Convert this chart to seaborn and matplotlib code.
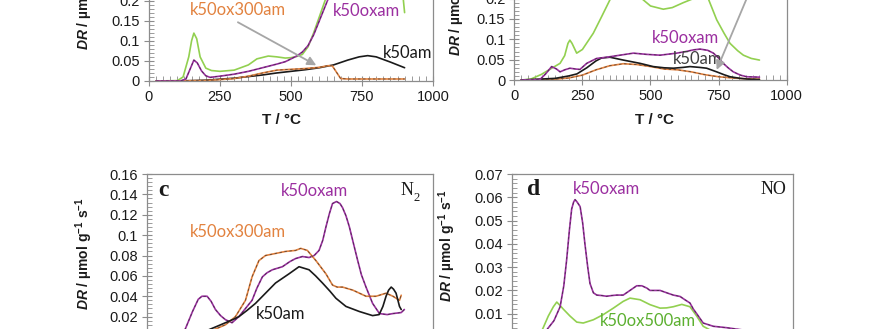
import matplotlib
matplotlib.use("Agg")
import matplotlib.pyplot as plt
from matplotlib.ticker import MultipleLocator, FuncFormatter
import pandas as pd
import seaborn as sns

# ---------------- data: desorption rate (µmol g-1 s-1) vs temperature (°C) ----------------
# panel a
a_ox500_T = [25, 100, 120, 140, 150, 158, 168, 180, 200, 220, 250, 300, 350, 380, 420, 450,
             480, 500, 520, 540, 560, 580, 600, 620, 640, 700, 800, 880, 893, 900]
a_ox500_v = [0, 0.001, 0.01, 0.06, 0.10, 0.119, 0.105, 0.06, 0.032, 0.026, 0.024, 0.027, 0.04,
             0.055, 0.062, 0.060, 0.057, 0.058, 0.061, 0.066, 0.085, 0.12, 0.16, 0.2, 0.24, 0.32,
             0.36, 0.33, 0.22, 0.17]
a_oxam_T = [25, 110, 130, 145, 158, 170, 185, 200, 215, 250, 300, 350, 400, 450, 480, 500, 520,
            540, 560, 580, 600, 620, 640, 660, 700, 800, 900]
a_oxam_v = [0, 0, 0.005, 0.03, 0.052, 0.045, 0.025, 0.013, 0.009, 0.012, 0.017, 0.024, 0.033,
            0.042, 0.048, 0.055, 0.062, 0.072, 0.088, 0.115, 0.15, 0.185, 0.22, 0.26, 0.33, 0.4, 0.42]
a_am_T = [25, 100, 200, 300, 400, 450, 500, 550, 600, 650, 700, 740, 770, 800, 850, 900]
a_am_v = [0, 0, 0.002, 0.007, 0.015, 0.02, 0.024, 0.028, 0.033, 0.04, 0.052, 0.06, 0.063, 0.06,
          0.047, 0.033]
a_ox300_T = [25, 200, 300, 350, 400, 450, 500, 550, 600, 630, 645, 660, 675, 700, 800, 900]
a_ox300_v = [0, 0.001, 0.006, 0.012, 0.02, 0.027, 0.029, 0.031, 0.034, 0.038, 0.038, 0.022,
             0.006, 0.005, 0.005, 0.005]

# panel b
b_ox500_T = [25, 60, 100, 130, 168, 185, 197, 204, 212, 229, 250, 270, 290, 320, 351, 380, 410,
             440, 468, 500, 547, 580, 620, 657, 680, 700, 712, 743, 770, 792, 820, 841, 870, 900]
b_ox500_v = [0, 0.002, 0.014, 0.026, 0.041, 0.06, 0.09, 0.098, 0.09, 0.066, 0.075, 0.095, 0.115,
             0.155, 0.197, 0.23, 0.25, 0.235, 0.2, 0.182, 0.174, 0.178, 0.19, 0.2, 0.215, 0.212,
             0.2, 0.148, 0.115, 0.09, 0.072, 0.061, 0.053, 0.049]
b_oxam_T = [25, 94, 115, 137, 155, 168, 185, 204, 225, 241, 266, 302, 339, 388, 437, 486, 535,
            596, 630, 657, 682, 710, 731, 750, 767, 785, 804, 830, 853, 900]
b_oxam_v = [0, 0.001, 0.015, 0.033, 0.027, 0.02, 0.025, 0.029, 0.027, 0.026, 0.041, 0.053, 0.056,
            0.061, 0.066, 0.063, 0.061, 0.066, 0.07, 0.074, 0.076, 0.073, 0.066, 0.054, 0.041,
            0.03, 0.02, 0.012, 0.008, 0.007]
b_am_T = [25, 150, 200, 230, 266, 300, 320, 351, 400, 461, 510, 550, 584, 620, 645, 680, 706,
          743, 770, 792, 830, 860, 900]
b_am_v = [0, 0.004, 0.01, 0.015, 0.03, 0.047, 0.054, 0.056, 0.049, 0.041, 0.033, 0.03, 0.029,
          0.031, 0.033, 0.031, 0.029, 0.02, 0.013, 0.008, 0.004, 0.002, 0.001]
b_ox300_T = [25, 150, 200, 250, 300, 350, 400, 450, 500, 550, 600, 650, 700, 750, 800, 850, 900]
b_ox300_v = [0, 0.002, 0.005, 0.012, 0.025, 0.035, 0.04, 0.038, 0.033, 0.027, 0.025, 0.02,
             0.013, 0.008, 0.005, 0.003, 0.002]

# panel c (N2)
c_oxam_T = [25, 100, 120, 135, 160, 180, 193, 211, 225, 240, 258, 275, 298, 322, 345, 368, 385,
            404, 420, 439, 474, 500, 520, 544, 567, 585, 602, 615, 626, 638, 649, 663, 675, 684,
            696, 708, 722, 737, 750, 766, 789, 813, 840, 860, 889, 900]
c_oxam_v = [0, 0, 0.003, 0.008, 0.025, 0.037, 0.040, 0.040, 0.035, 0.027, 0.021, 0.017, 0.014,
            0.020, 0.028, 0.036, 0.048, 0.059, 0.063, 0.066, 0.069, 0.074, 0.077, 0.079, 0.078,
            0.080, 0.085, 0.095, 0.108, 0.121, 0.131, 0.133, 0.131, 0.127, 0.119, 0.108, 0.092,
            0.075, 0.061, 0.049, 0.033, 0.023, 0.022, 0.023, 0.024, 0.027]
c_am_T = [25, 150, 216, 250, 275, 300, 322, 350, 380, 415, 450, 497, 532, 567, 590, 614, 640,
          661, 696, 743, 789, 812, 825, 836, 845, 854, 862, 871, 883, 889]
c_am_v = [0, 0.002, 0.007, 0.011, 0.014, 0.017, 0.020, 0.026, 0.033, 0.043, 0.053, 0.062, 0.069,
          0.066, 0.060, 0.053, 0.045, 0.038, 0.030, 0.025, 0.021, 0.022, 0.03, 0.040, 0.046,
          0.049, 0.047, 0.043, 0.030, 0.027]
c_ox300_T = [25, 200, 250, 275, 310, 345, 368, 392, 415, 450, 485, 520, 538, 561, 591, 626, 649,
             665, 684, 720, 766, 801, 836, 860, 883, 889]
c_ox300_v = [0, 0.003, 0.009, 0.012, 0.020, 0.036, 0.059, 0.075, 0.080, 0.082, 0.084, 0.085,
             0.087, 0.085, 0.075, 0.062, 0.051, 0.049, 0.049, 0.046, 0.040, 0.040, 0.043, 0.040,
             0.036, 0.041]

# panel d (NO)
d_oxam_T = [25, 100, 124, 150, 172, 185, 195, 205, 213, 220, 225, 232, 243, 252, 260, 270, 278,
            290, 302, 320, 337, 355, 373, 396, 420, 444, 462, 480, 491, 527, 550, 574, 598, 615,
            633, 645, 657, 680, 716, 763, 822, 882, 900]
d_oxam_v = [0, 0.001, 0.003, 0.007, 0.013, 0.022, 0.033, 0.046, 0.055, 0.058, 0.059, 0.058,
            0.056, 0.049, 0.040, 0.030, 0.023, 0.019, 0.018, 0.0178, 0.0175, 0.0178, 0.018,
            0.018, 0.020, 0.022, 0.022, 0.021, 0.020, 0.020, 0.019, 0.018, 0.0174, 0.016,
            0.0146, 0.012, 0.010, 0.006, 0.0046, 0.004, 0.003, 0.0024, 0.002]
d_ox500_T = [25, 100, 112, 130, 148, 160, 172, 183, 207, 231, 254, 290, 325, 361, 396, 420, 456,
             491, 527, 550, 574, 604, 633, 657, 680, 720, 800, 900]
d_ox500_v = [0, 0.001, 0.004, 0.009, 0.013, 0.015, 0.0135, 0.012, 0.009, 0.0064, 0.006, 0.0074,
             0.0096, 0.0124, 0.0153, 0.0167, 0.016, 0.0139, 0.0124, 0.0125, 0.013, 0.014, 0.013,
             0.009, 0.0046, 0.002, 0.001, 0.0005]

x_ticks = [0, 250, 500, 750, 1000]

# ---------------- style ----------------
PURPLE = "#9b2fa0"
ORANGE = "#e2823f"
GREEN = "#92d050"
BLACK = "#1a1a1a"
AXIS = "#8c8c8c"

sns.set_theme(style="ticks")
plt.rcParams.update({
    "font.family": ["Liberation Sans", "DejaVu Sans"],
    "mathtext.fontset": "custom",
    "mathtext.rm": "Liberation Sans:bold",
    "mathtext.bf": "Liberation Sans:bold",
    "mathtext.it": "Liberation Sans:italic:bold",
    "axes.edgecolor": AXIS,
    "axes.linewidth": 0.9,
    "figure.facecolor": "white",
    "axes.facecolor": "white",
})

W, H = 870, 329
fig = plt.figure(figsize=(W / 100, H / 100), dpi=100)


def make_axes(left, right, y_zero, y_top):
    """Axes from pixel edges measured from the top-left corner of the canvas."""
    return fig.add_axes([left / W, 1 - y_zero / H, (right - left) / W, (y_zero - y_top) / H])


def curve(ax, T, v, color, overlay=False):
    df = pd.DataFrame({"T": T, "DR": v})
    sns.lineplot(data=df, x="T", y="DR", ax=ax, color=color, lw=1.2,
                 estimator=None, errorbar=None, sort=False)
    if overlay:
        sns.lineplot(data=df, x="T", y="DR", ax=ax, color="#2a2a2a", lw=0.6, alpha=0.7,
                     estimator=None, errorbar=None, sort=False, linestyle=(0, (3, 3)))


def style_axes(ax, ymax, ymajor, yminor):
    ax.set_xlim(0, 1000)
    ax.set_ylim(0, ymax)
    ax.xaxis.set_major_locator(MultipleLocator(250))
    ax.xaxis.set_minor_locator(MultipleLocator(25))
    ax.yaxis.set_major_locator(MultipleLocator(ymajor))
    ax.yaxis.set_minor_locator(MultipleLocator(yminor))
    ax.yaxis.set_major_formatter(FuncFormatter(lambda v, p: f"{v:g}"))
    ax.tick_params(which="major", direction="inout", length=7, width=0.8, color=AXIS,
                   labelsize=10.5, labelcolor="#1a1a1a", pad=3)
    ax.tick_params(which="minor", direction="in", length=3.5, width=0.6, color=AXIS)
    ax.tick_params(top=False, right=False, which="both")
    ax.set_xlabel("")
    ax.set_ylabel("")
    for s in ax.spines.values():
        s.set_visible(True)
        s.set_color(AXIS)


def gas_label(ax, x_right, y, main, sub, size):
    """Serif gas formula at the top right of a panel, with an optional subscript."""
    serif = ["Liberation Serif", "DejaVu Serif"]
    ax.text(x_right, y, main, family=serif, fontsize=size, ha="right", va="center",
            color="#1a1a1a")
    if sub:
        ymin, ymax = ax.get_ylim()
        ax.text(x_right + 2, y - 0.05 * (ymax - ymin), sub, family=serif, fontsize=size * 0.7,
                ha="left", va="center", color="#1a1a1a")


YLABEL = r"$\it{DR}$ / µmol g$^{-1}$ s$^{-1}$"
LBL = dict(family=["Lato", "DejaVu Sans"], fontsize=12, ha="left", va="center")
ARROW = dict(arrowstyle="-|>", color="#a6a6a6", lw=1.3, mutation_scale=13, shrinkA=0, shrinkB=0)

# ---------------- panel a ----------------
ax_a = make_axes(149, 433, 81, 81 - 100.6)
curve(ax_a, a_ox500_T, a_ox500_v, GREEN)
curve(ax_a, a_am_T, a_am_v, BLACK)
curve(ax_a, a_ox300_T, a_ox300_v, ORANGE, overlay=True)
curve(ax_a, a_oxam_T, a_oxam_v, PURPLE, overlay=True)
style_axes(ax_a, 0.25, 0.05, 0.01)
ax_a.text(143, 0.177, "k50ox300am", color=ORANGE, **LBL)
ax_a.text(648, 0.173, "k50oxam", color=PURPLE, **LBL)
ax_a.text(824, 0.069, "k50am", color=BLACK, **LBL)
ax_a.annotate("", xy=(589, 0.039), xytext=(313, 0.146), arrowprops=ARROW)

# ---------------- panel b ----------------
ax_b = make_axes(514.3, 786.7, 80, 80 - 101.7)
curve(ax_b, b_ox500_T, b_ox500_v, GREEN)
curve(ax_b, b_ox300_T, b_ox300_v, ORANGE, overlay=True)
curve(ax_b, b_am_T, b_am_v, BLACK)
curve(ax_b, b_oxam_T, b_oxam_v, PURPLE, overlay=True)
style_axes(ax_b, 0.25, 0.05, 0.01)
ax_b.text(505, 0.103, "k50oxam", color=PURPLE, **LBL)
ax_b.text(582, 0.051, "k50am", color="#404040", **LBL)
ax_b.annotate("", xy=(743, 0.025), xytext=(897, 0.27), arrowprops=ARROW,
              annotation_clip=False)

for ax, lx, ly in [(ax_a, -0.19, 0.87), (ax_b, -0.174, 0.79)]:
    ax.set_xticks(x_ticks)
    ax.set_xlabel("T / °C", fontsize=11, fontweight="bold", color="#1a1a1a")
    ax.set_ylabel(YLABEL, fontsize=10, fontweight="bold", color="#1a1a1a")
    ax.yaxis.set_label_coords(lx, ly)
ax_a.xaxis.set_label_coords(0.465, -0.32)
ax_b.xaxis.set_label_coords(0.513, -0.32)
for ax in (ax_a, ax_b):
    ax.xaxis.label.set_va("top")

# ---------------- panel c: N2 ----------------
ax_c = make_axes(146.7, 433, 337, 174)
curve(ax_c, c_oxam_T, c_oxam_v, PURPLE, overlay=True)
curve(ax_c, c_ox300_T, c_ox300_v, ORANGE, overlay=True)
curve(ax_c, c_am_T, c_am_v, BLACK)
style_axes(ax_c, 0.16, 0.02, 0.004)
ax_c.text(468, 0.143, "k50oxam", color=PURPLE, **LBL)
ax_c.text(152, 0.103, "k50ox300am", color=ORANGE, **LBL)
ax_c.text(380, 0.0228, "k50am", color=BLACK, **LBL)
ax_c.text(41, 0.144, "c", family=["Liberation Serif", "DejaVu Serif"], fontsize=17,
          fontweight="bold", ha="left", va="center", color="#1a1a1a")
gas_label(ax_c, 930, 0.144, "N", "2", 13)

# ---------------- panel d: NO ----------------
ax_d = make_axes(511.7, 793.3, 337, 174)
curve(ax_d, d_ox500_T, d_ox500_v, GREEN)
curve(ax_d, d_oxam_T, d_oxam_v, PURPLE, overlay=True)
style_axes(ax_d, 0.07, 0.01, 0.002)
ax_d.text(219, 0.0634, "k50oxam", color=PURPLE, **LBL)
ax_d.text(314, 0.0067, "k50ox500am", color="#5cb030", **LBL)
ax_d.text(53, 0.0635, "d", family=["Liberation Serif", "DejaVu Serif"], fontsize=17,
          fontweight="bold", ha="left", va="center", color="#1a1a1a")
gas_label(ax_d, 976, 0.0635, "NO", "", 13)

for ax, lx, ly in [(ax_c, -0.18, 0.51), (ax_d, -0.19, 0.558)]:
    ax.set_ylabel(YLABEL, fontsize=10, fontweight="bold", color="#1a1a1a")
    ax.yaxis.set_label_coords(lx, ly)

fig.savefig("out.png", dpi=100)
